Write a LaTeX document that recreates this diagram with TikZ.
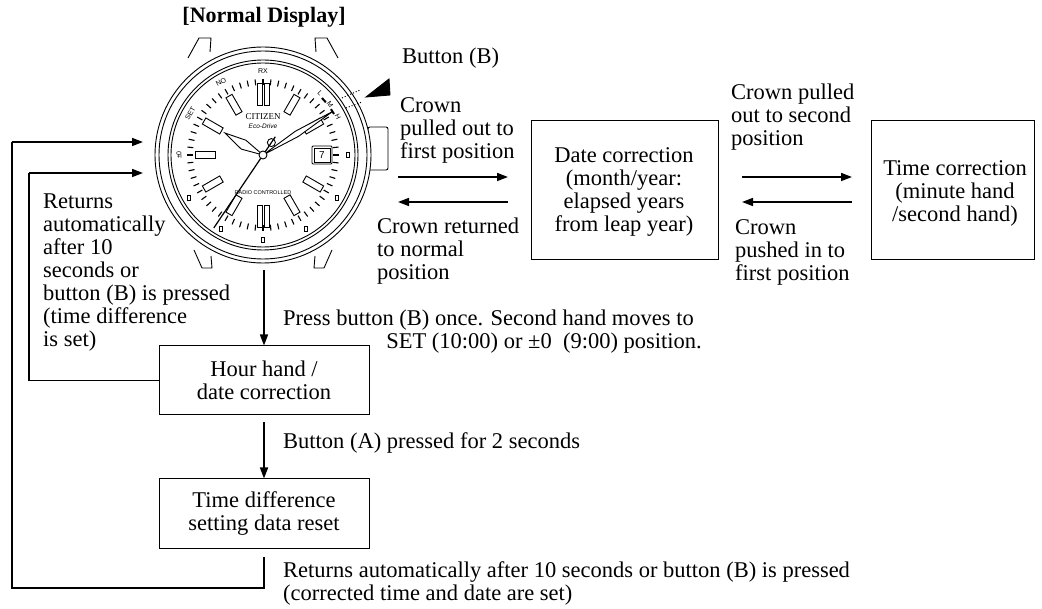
\documentclass[tikz,border=0pt]{standalone}
\usepackage{fontspec}
\setmainfont{Liberation Serif}
\newfontfamily\wsans{Liberation Sans}
\usetikzlibrary{arrows.meta,calc}
\begin{document}
\begin{tikzpicture}[x=1pt,y=-1pt,
  txt/.style={font=\fontsize{22.5}{23}\selectfont, inner sep=0pt},
  box/.style={draw, line width=1pt, inner sep=0pt},
  arr/.style={line width=1.6pt, -{Triangle[length=11pt,width=8pt]}},
  con/.style={line width=1.6pt},
  wl/.style={line width=0.9pt},
  tiny/.style={font=\wsans\fontsize{7}{7}\selectfont, inner sep=0pt}]
\useasboundingbox (0,0) rectangle (1042,609);
% title
\node[txt, font=\bfseries\fontsize{22}{23}\selectfont] (title) at (264,17) {[Normal Display]};
% ---------- watch ----------
\coordinate (C) at (263,155);
\begin{scope}[wl]
 \draw[fill=white] (188,58) -- (199,38) -- (211,38) -- (210,52);
 \draw[fill=white] (338,58) -- (327,38) -- (315,38) -- (316,52);
 \draw[fill=white] (194,250) -- (202,268) -- (212,268) -- (211,256);
 \draw[fill=white] (332,250) -- (324,268) -- (314,268) -- (315,256);
 \draw[fill=white,rounded corners=2pt] (368,127) rectangle (388,170);
 \draw[fill=white] (C) circle (108);
 \draw (C) circle (104);
 \draw (C) circle (95);
 \draw (C) circle (92);
 \foreach \a in {0,6,...,354}{\draw[line width=1.1pt] ($(C)+(\a:70)$) -- ($(C)+(\a:76)$);}
 \foreach \a in {30,60,120,150,210,240,300,330}{
   \draw[rotate around={-\a:(C)},fill=white] ($(C)+(48,-3.5)$) rectangle ($(C)+(68,3.5)$);}
 \draw[fill=white] ($(C)+(-68,-3.5)$) rectangle ($(C)+(-48,3.5)$);
 \draw[fill=white] ($(C)+(-6,-72)$) rectangle ($(C)+(-1,-50)$);
 \draw[fill=white] ($(C)+(1,-72)$) rectangle ($(C)+(6,-50)$);
 \draw[fill=white] ($(C)+(-6,50)$) rectangle ($(C)+(-1,72)$);
 \draw[fill=white] ($(C)+(1,50)$) rectangle ($(C)+(6,72)$);
 \foreach \a in {60,120,150,30,0,90}{\draw[fill=white] ($(C)+(\a:85)+(-1.5,-2.5)$) rectangle ++(3,5);}
 % date window
 \draw[fill=white,rounded corners=1pt] (312,146) rectangle (332,164);
 \draw (314,148) rectangle (330,162);
 \node[inner sep=0pt,font=\wsans\fontsize{10}{10}\selectfont] (dt) at (322,155) {7};
 % hour hand
 \draw[fill=white] (C) -- ($(C)+(-152:22)+(-62:5)$) -- ($(C)+(-150:44)$) -- ($(C)+(-152:22)+(118:5)$) -- cycle;
 % minute hand
 \draw[fill=white] (C) -- ($(C)+(-32:40)+(-122:3)$) -- ($(C)+(-32:82)$) -- ($(C)+(-32:40)+(58:3)$) -- cycle;
 % second hand
 \draw[line width=1.2pt] ($(C)+(124:88)$) -- ($(C)+(-56:22)$);
 \draw ($(C)+(-56:15)$) circle (4);
 \draw[fill=white] (C) circle (4);
 \node[tiny, font=\fontsize{9}{9}\selectfont] (cz) at (263,117) {CITIZEN};
 \node[tiny, font=\wsans\itshape\fontsize{6.5}{6.5}\selectfont] (ed) at (263,126) {Eco-Drive};
 \node[tiny, font=\wsans\fontsize{5.5}{5.5}\selectfont] (rc) at (263,193) {RADIO CONTROLLED};
 \node[tiny] (rx) at ($(C)+(-90:84)$) {RX};
 \node[tiny, rotate=30] (no) at ($(C)+(-120:84)$) {NO};
 \node[tiny, rotate=60] (set) at ($(C)+(-150:84)$) {SET};
 \node[tiny, rotate=90] (pm) at ($(C)+(180:84)$) {±0};
 \node[tiny, rotate=-45] (l) at ($(C)+(-47:84)$) {L};
 \node[tiny, rotate=-55] (m) at ($(C)+(-37:84)$) {M};
 \node[tiny, rotate=-65] (h) at ($(C)+(-27:84)$) {H};
 \draw[line width=2pt] ($(C)+(-44:82)$) -- ($(C)+(-40:82)$);
 \draw[line width=2pt] ($(C)+(-34:82)$) -- ($(C)+(-30:82)$);
 \draw[dotted, line width=1pt] (342,98) -- (360,90);
 \draw[dotted, line width=1pt] (346,108) -- (362,102);
 \draw[fill=black] (366,97) -- (389,79) -- (390,95) -- cycle;
\end{scope}
\node[txt, anchor=west] (btnB) at (402,58) {Button (B)};
% ---------- boxes ----------
\node[box, minimum width=187pt, minimum height=139pt] (date) at (624.5,190.5) {};
\node[txt, align=center] (datet) at (624,192) {Date correction\\(month/year:\\elapsed years\\from leap year)};
\node[box, minimum width=163pt, minimum height=139pt] (time) at (952.5,190.5) {};
\node[txt, align=center] (timet) at (955,193) {Time correction\\(minute hand\\/second hand)};
\node[box, minimum width=210pt, minimum height=69pt, align=center, txt] (hour) at (264,380.5) {Hour hand /\\date correction};
\node[box, minimum width=210pt, minimum height=69pt, align=center, txt] (tdiff) at (264,513.5) {Time difference\\setting data reset};
% ---------- crown arrows ----------
\coordinate (a1s) at (398,177); \coordinate (a1e) at (508,177);
\coordinate (a2s) at (508,202); \coordinate (a2e) at (398,202);
\coordinate (a3s) at (742,177); \coordinate (a3e) at (852,177);
\coordinate (a4s) at (852,202); \coordinate (a4e) at (742,202);
\draw[arr] (a1s) -- (a1e);
\draw[arr] (a2s) -- (a2e);
\draw[arr] (a3s) -- (a3e);
\draw[arr] (a4s) -- (a4e);
\node[txt, anchor=west, align=left] (t1) at (400,130) {Crown\\pulled out to\\first position};
\node[txt, anchor=west, align=left] (t2) at (377,251) {Crown returned\\to normal\\position};
\node[txt, anchor=west, align=left] (t3) at (731,117) {Crown pulled\\out to second\\position};
\node[txt, anchor=west, align=left] (t4) at (735,252) {Crown\\pushed in to\\first position};
% ---------- vertical arrows ----------
\coordinate (wb) at (264,270);
\coordinate (hs) at (264,422);
\draw[arr] (wb) -- (hour.north);
\draw[arr] (hs) -- (tdiff.north);
\node[txt, anchor=west] (p1) at (283,320) {Press button (B) once. Second hand moves to};
\node[txt, anchor=east] (p2) at (702,343) {SET (10:00) or ±0\ \ (9:00) position.};
\node[txt, anchor=west] (ba) at (283,443) {Button (A) pressed for 2 seconds};
% ---------- loops ----------
\coordinate (w1) at (143,142);
\coordinate (w2) at (143,173);
\coordinate (tb) at (264,557);
\draw[con] (tb) -- (264,588) -- (12,588) -- (12,142);
\draw[arr] (12,142) -- (w1);
\draw[con] (hour.west) -- (29,380.5) -- (29,173);
\draw[arr] (29,173) -- (w2);
\node[txt, anchor=north west, align=left] (r1) at (43,194) {Returns\\automatically\\after 10\\seconds or\\button (B) is pressed\\(time difference\\is set)};
\node[txt, anchor=west, align=left] (r2) at (283,583.5) {Returns automatically after 10 seconds or button (B) is pressed\\(corrected time and date are set)};
\end{tikzpicture}
\end{document}
